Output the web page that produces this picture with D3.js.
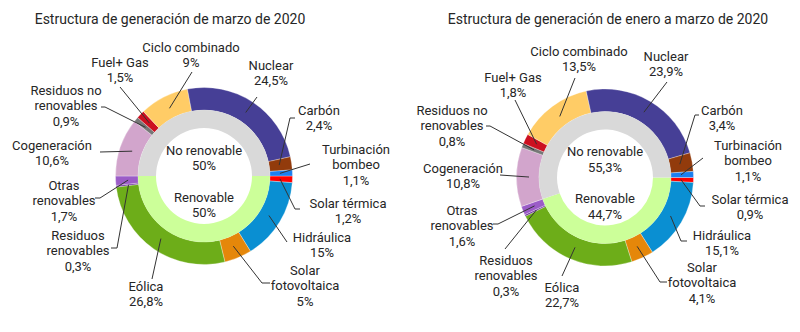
<!DOCTYPE html>
<html>
<head>
<meta charset="utf-8">
<script src="https://cdn.jsdelivr.net/npm/d3@7"></script>
<style>
  body { margin: 0; background: #fff; }
  svg text { font-family: Roboto, "Noto Sans", sans-serif; fill: #262626; }
</style>
</head>
<body>
<div id="chart"></div>
<script>
// generation technologies, clockwise from 3 o'clock (renewables first)
const categories = ["Solar térmica", "Hidráulica", "Solar fotovoltaica", "Eólica", "Residuos renovables",
  "Otras renovables", "Cogeneración", "Residuos no renovables", "Fuel + Gas", "Ciclo combinado",
  "Nuclear", "Carbón", "Turbinación bombeo"];
const labelLines = [["Solar térmica"], ["Hidráulica"], ["Solar", "fotovoltaica"], ["Eólica"],
  ["Residuos", "renovables"], ["Otras", "renovables"], ["Cogeneración"], ["Residuos no", "renovables"],
  ["Fuel+ Gas"], ["Ciclo combinado"], ["Nuclear"], ["Carbón"], ["Turbinación", "bombeo"]];
const shareMarzo = [1.2, 15, 5, 26.8, 0.3, 1.7, 10.6, 0.9, 1.5, 9, 24.5, 2.4, 1.1];
const shareEneroMarzo = [0.9, 15.1, 4.1, 22.7, 0.3, 1.6, 10.8, 0.8, 1.8, 13.5, 23.9, 3.4, 1.1];

const groups = ["Renovable", "No renovable"];
const groupMarzo = [50, 50];
const groupEneroMarzo = [44.7, 55.3];

const titles = ["Estructura de generación de marzo de 2020", "Estructura de generación de enero a marzo de 2020"];

const colors = ["#ff0000", "#0a8fd2", "#e5870a", "#6dad19", "#6b2f9a", "#9b5cc7", "#d2a5cc",
  "#777777", "#cc1020", "#ffcc66", "#463f96", "#923b0c", "#1c7ff0"];
const groupColors = ["#ccff99", "#d9d9d9"];

// label placement: [text x, first line y, leader end x, leader end y, elbow tick]
const layoutMarzo = [
  [348, 203, 295, 209, 5], [322, 237, 287, 242, 0], [305, 270, 262, 283, 8], [146, 286, 152, 279, 0],
  [78, 235, 117, 248, -6], [64, 185, 100, 198, -5], [52, 145, 100, 152, 0], [66, 90, 105, 107, -4],
  [120, 62, 120, 87, 0], [191, 47, 192, 72, 0], [271, 65, 257, 97, 0], [319, 110, 290, 118, 5],
  [356, 149, 310, 164, 0]
];
const layoutEneroMarzo = [
  [750, 199, 700, 206, 5], [722, 235, 681, 241, 6], [702, 267, 660, 282, 7], [562, 287, 562, 276, 0],
  [506, 260, 505, 249, 0], [462, 210, 498, 224, -5], [463, 168, 500, 175, 0], [452, 110, 490, 126, -4],
  [513, 77, 515, 100, 0], [579, 51, 575, 78, 0], [666, 56, 667, 82, 0], [722, 110, 695, 115, 4],
  [748, 145, 703, 158, 0]
];

const fmt = v => String(v).replace(".", ",") + "%";

const width = 800, height = 332;
const svg = d3.select("#chart").append("svg")
  .attr("width", width)
  .attr("height", height);

const pie = d3.pie().sort(null).value(d => d)
  .startAngle(Math.PI / 2).endAngle(Math.PI / 2 + 2 * Math.PI);
const outerArc = d3.arc().innerRadius(66).outerRadius(88.5);
const innerArc = d3.arc().innerRadius(48).outerRadius(66);
const pointArc = d3.arc().innerRadius(76).outerRadius(76);

function donut(cfg) {
  svg.append("text")
    .attr("x", cfg.titleX).attr("y", 24)
    .attr("text-anchor", "middle")
    .style("font-size", "14px")
    .text(cfg.title);

  const g = svg.append("g").attr("transform", `translate(${cfg.cx},${cfg.cy})`);

  const outer = pie(cfg.values);
  g.selectAll(".outer").data(outer).enter().append("path")
    .attr("d", outerArc)
    .attr("fill", (d, i) => colors[i])
    .attr("stroke", "#fff").attr("stroke-width", 0.3);

  const inner = pie(cfg.groupValues);
  g.selectAll(".inner").data(inner).enter().append("path")
    .attr("d", innerArc)
    .attr("fill", (d, i) => groupColors[i]);

  // centre texts: non-renewable above, renewable below
  [[1, -26], [0, 21]].forEach(([i, y]) => {
    const t = g.append("text").attr("text-anchor", "middle").style("font-size", "13px");
    t.append("tspan").attr("x", 0).attr("y", y).attr("dy", "0.35em").text(groups[i]);
    t.append("tspan").attr("x", 0).attr("y", y + 15.5).attr("dy", "0.35em").text(fmt(cfg.groupValues[i]));
  });

  // leader lines
  svg.append("g").selectAll("path").data(outer).enter().append("path")
    .attr("fill", "none")
    .attr("stroke", "#333")
    .attr("stroke-width", 1)
    .attr("d", (d, i) => {
      const [lx, ly, ex, ey, tick] = cfg.layout[i];
      const [px, py] = pointArc.centroid(d);
      const p = d3.path();
      p.moveTo(ex + tick, ey);
      p.lineTo(ex, ey);
      p.lineTo(cfg.cx + px, cfg.cy + py);
      return p.toString();
    });

  // outside labels
  const labels = svg.append("g").selectAll("text").data(outer).enter().append("text")
    .attr("text-anchor", "middle")
    .style("font-size", "13px");
  labels.each(function(d, i) {
    const [lx, ly] = cfg.layout[i];
    const lines = labelLines[i].concat([fmt(cfg.values[i])]);
    const t = d3.select(this);
    lines.forEach((s, k) => {
      t.append("tspan").attr("x", lx).attr("y", ly + k * 15.5).attr("dy", "0.35em").text(s);
    });
  });
}

donut({ title: titles[0], titleX: 170, cx: 204, cy: 176, values: shareMarzo,
  groupValues: groupMarzo, layout: layoutMarzo });
donut({ title: titles[1], titleX: 608, cx: 605, cy: 177.5, values: shareEneroMarzo,
  groupValues: groupEneroMarzo, layout: layoutEneroMarzo });
</script>
</body>
</html>
